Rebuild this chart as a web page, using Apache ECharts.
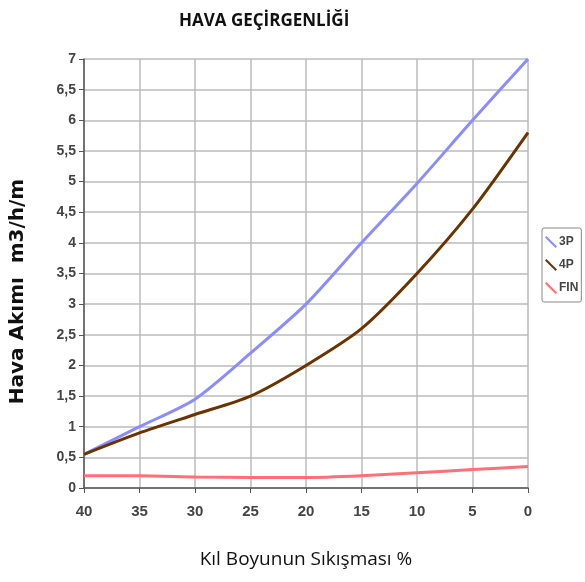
<!DOCTYPE html>
<html>
<head>
<meta charset="utf-8">
<script src="https://cdn.jsdelivr.net/npm/echarts@6/dist/echarts.min.js"></script>
<style>html,body{margin:0;padding:0;background:#fff}#c{width:585px;height:582px}</style>
</head>
<body>
<div id="c"></div>
<script>
const categories = ['40','35','30','25','20','15','10','5','0'];
const s3P = [0.55, 1.0, 1.45, 2.2, 3.0, 4.0, 4.97, 6.0, 7.0];
const s4P = [0.55, 0.9, 1.2, 1.5, 2.0, 2.6, 3.5, 4.55, 5.8];
const sFIN = [0.2, 0.2, 0.18, 0.17, 0.17, 0.2, 0.25, 0.3, 0.35];

const chart = echarts.init(document.getElementById('c'));
const icon = 'path://M0,1.2 L1.2,0 L10,8.8 L8.8,10 Z';
const mk = (name, data, color) => ({
  name, type: 'line', data, smooth: 0.25, symbol: 'none',
  lineStyle: {color, width: 3}, itemStyle: {color}
});
chart.setOption({
  animation: false,
  title: {
    text: 'HAVA GEÇİRGENLİĞİ', left: 174, top: 8,
    textStyle: {fontFamily: 'Open Sans', fontWeight: 'bold', fontSize: 17, color: '#111'}
  },
  legend: {
    orient: 'vertical', left: 542, top: 228, itemWidth: 12, itemHeight: 15, itemGap: 11,
    padding: [8, 3, 8, 3], borderColor: '#888', borderWidth: 1, borderRadius: 2,
    textStyle: {fontFamily: 'Liberation Sans', fontWeight: 'bold', fontSize: 12, color: '#444', padding: [0,0,0,-3]},
    data: [{name: '3P', icon}, {name: '4P', icon}, {name: 'FIN', icon}]
  },
  grid: {left: 84, right: 57, top: 59, bottom: 94, containLabel: false},
  xAxis: {
    type: 'category', data: categories, boundaryGap: false,
    name: 'Kıl Boyunun Sıkışması %', nameLocation: 'middle', nameGap: 62,
    nameTextStyle: {fontFamily: 'Open Sans', fontSize: 19, color: '#111'},
    axisLine: {lineStyle: {color: '#555', width: 1.5}},
    axisTick: {show: true, length: 5, lineStyle: {color: '#555'}},
    axisLabel: {fontFamily: 'Liberation Sans', fontWeight: 'bold', fontSize: 15, color: '#444', margin: 16},
    splitLine: {show: true, lineStyle: {color: '#bbb', width: 1.5}}
  },
  yAxis: {
    type: 'value', min: 0, max: 7, interval: 0.5,
    name: 'Hava Akımı  m3/h/m', nameLocation: 'middle', nameGap: 56, nameRotate: 90,
    nameTextStyle: {fontFamily: 'DejaVu Sans', fontWeight: 'bold', fontSize: 20, color: '#111', padding: [0, 36, 0, 0]},
    axisLine: {show: true, lineStyle: {color: '#555', width: 1.5}},
    axisTick: {show: true, length: 5, lineStyle: {color: '#555'}},
    axisLabel: {fontFamily: 'Liberation Sans', fontWeight: 'bold', fontSize: 14, color: '#444', margin: 8,
      formatter: v => String(v).replace('.', ',')},
    splitLine: {show: true, lineStyle: {color: '#bbb', width: 1.5}}
  },
  series: [
    mk('3P', s3P, '#8a8cff'),
    mk('4P', s4P, '#6b3300'),
    mk('FIN', sFIN, '#ff6f78')
  ]
});
</script>
</body>
</html>
